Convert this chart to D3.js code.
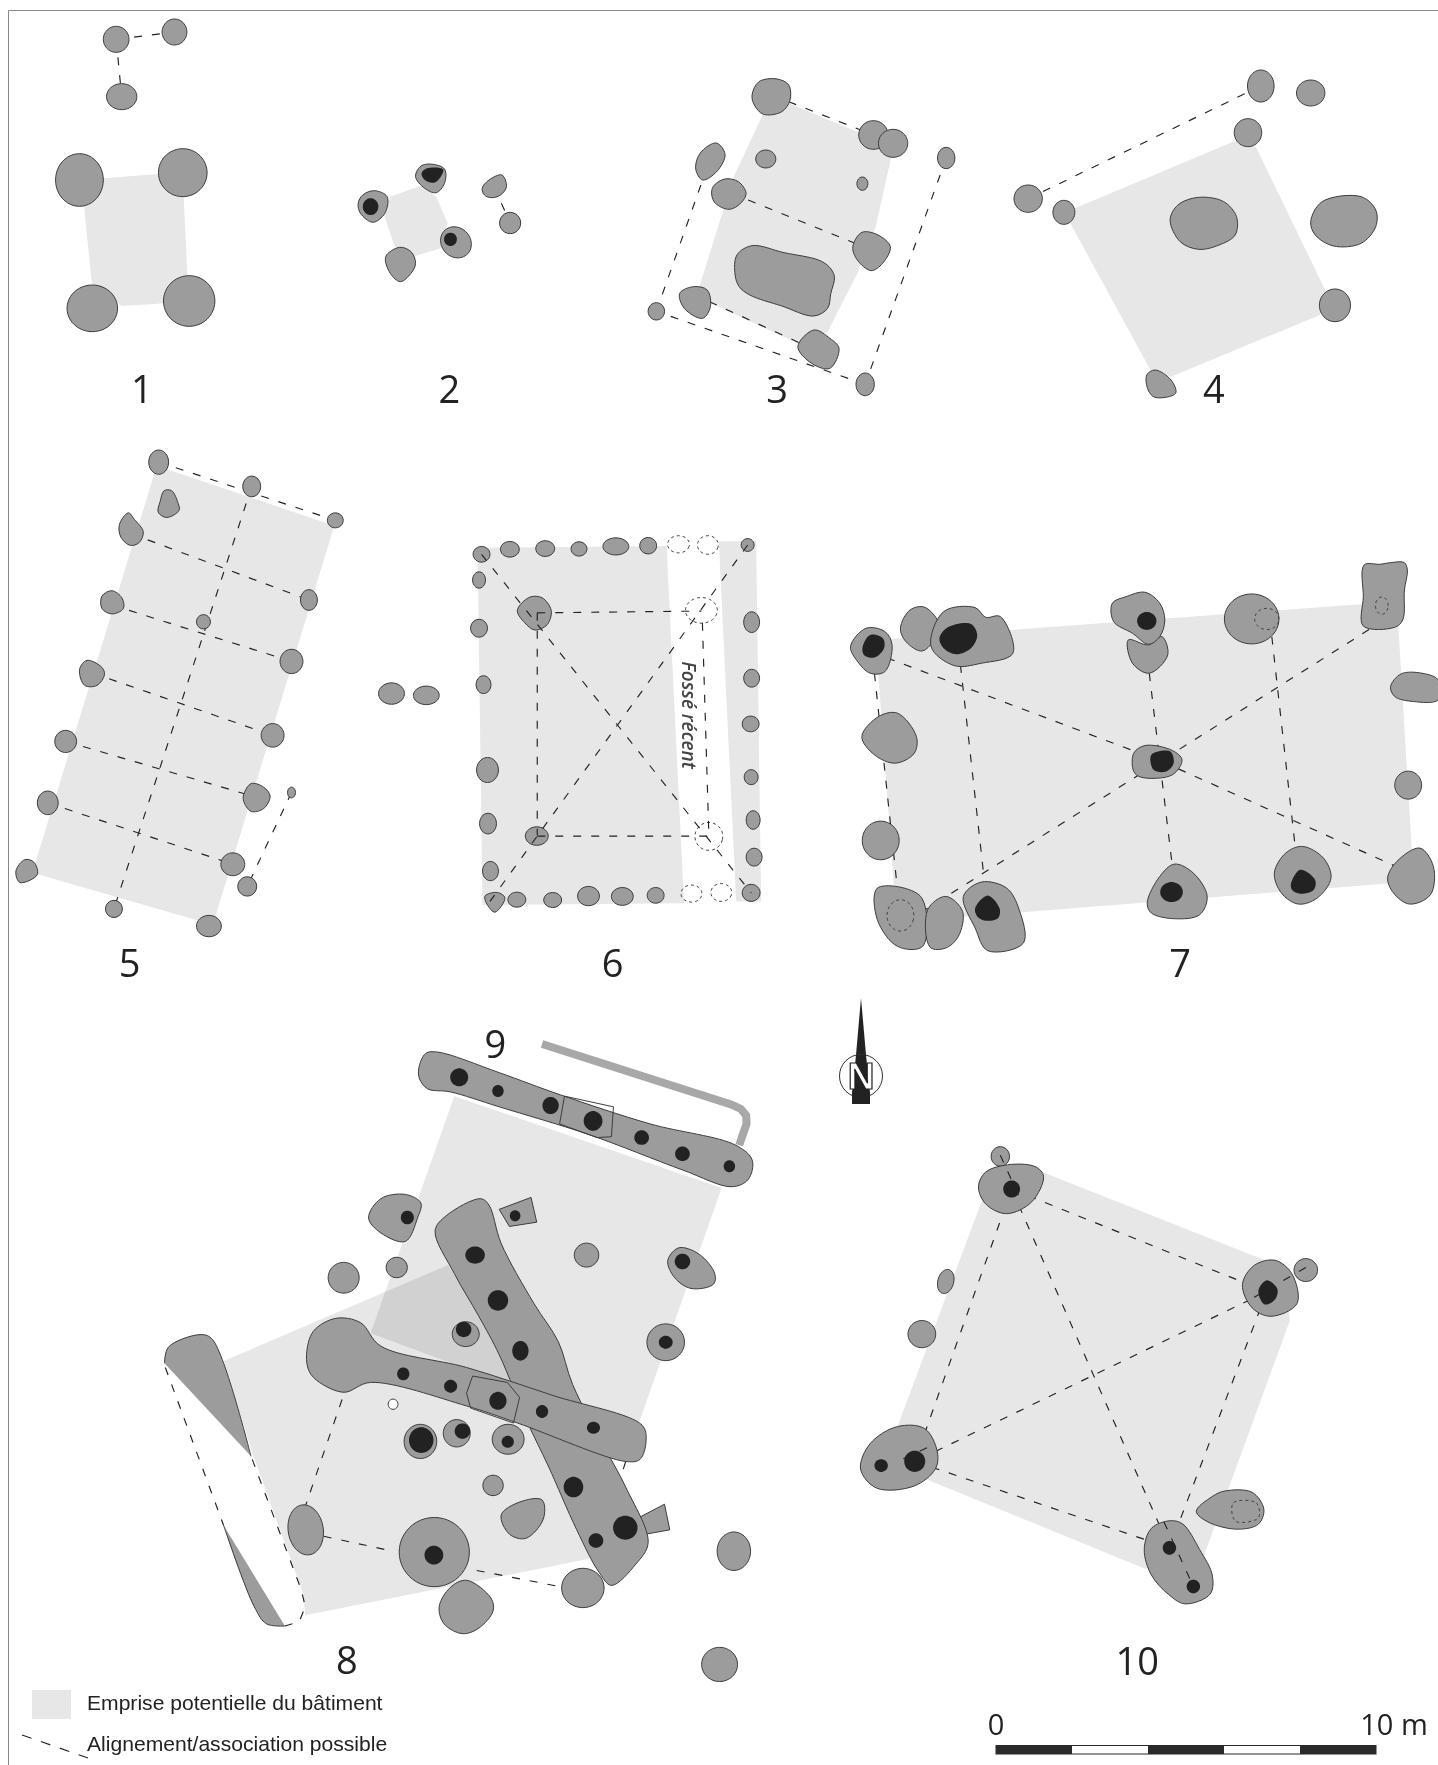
<!DOCTYPE html>
<html>
<head>
<meta charset="utf-8">
<title>Plans de bâtiments</title>
<script src="https://cdnjs.cloudflare.com/ajax/libs/d3/7.8.5/d3.min.js"></script>
<style>
    body { margin: 0; background: #fff; }
    svg { display: block; }
    .emprise { fill: #e7e7e7; mix-blend-mode: multiply; }
    .fosse { fill: #9c9c9c; stroke: #3d3d3d; stroke-width: 1; }
    .noyau { fill: #222; stroke: none; }
    .vide { fill: none; stroke: #444; stroke-width: 1; stroke-dasharray: 3 3; }
    .lien { fill: none; stroke: #222; stroke-width: 1.15; stroke-dasharray: 8 10; }
    .numero { font-family: "Open Sans", sans-serif; font-size: 38px; fill: #222; text-anchor: middle; dominant-baseline: central; }
    .legende { font-family: "Liberation Sans", Arial, sans-serif; font-size: 21.1px; fill: #222; }
</style>
</head>
<body>
<div id="plan"></div>
<script>
// each array is in the coordinates of the panel it is drawn in
// a shape is either [cx, cy, rx, ry, rot] or a list of contour points

// building 1
var emprise1 = [[225,535],[345,522],[400,590],[408,825],[360,910],[265,918],[200,850],[183,620]];
var fosses1 = [[173,540,52,79],[398,518,53,72],[201,925,55,70],[412,903,56,76],[253,118,28,39],[380,96,27,39],[265,290,33,39]];
var liens1 = [[[253,118],[380,96]],[[253,118],[265,290]]];

// building 2
var emprise2 = [[920,555],[950,590],[975,670],[960,745],[900,770],[860,740],[835,640],[850,590]];
var fosses2 = [
    [[815,572],[843,590],[838,640],[812,667],[785,640],[780,610],[790,585]],
    [[905,530],[915,500],[935,492],[968,507],[968,550],[950,578],[925,565]],
    [993,727,33,47,-10],
    [[840,770],[870,742],[895,755],[905,790],[895,820],[872,845],[850,820]],
    [[1050,565],[1065,540],[1093,525],[1103,560],[1090,585],[1070,593],[1055,585]],
    [1111,669,23,32]
];
var noyaux2 = [
    [807,620,17,25],
    [[918,520],[930,505],[965,508],[960,530],[945,548],[925,540]],
    [981,718,14,20]
];
var liens2 = [[[1076,560],[1111,669]]];

// building 3
var emprise3 = [[95,340],[150,310],[300,395],[375,465],[340,680],[300,820],[235,995],[170,1030],[-50,890],[-45,860],[30,530]];
var fosses3 = [
    [[70,285],[85,245],[125,237],[150,255],[153,300],[135,335],[95,343],[75,315]],
    [335,405,32,43],[378,430,32,42],[100,477,22,27],[311,551,12,20],[494,474,19,32],
    [[290,740],[310,697],[345,705],[372,740],[355,790],[330,812],[300,780]],
    [[70,737],[140,758],[215,780],[238,800],[250,830],[242,880],[235,925],[205,948],[135,918],[65,885],[42,860],[33,825],[37,765]],
    [[170,1040],[205,990],[240,1015],[260,1045],[240,1105],[200,1090]],
    [317,1153,20,34],[-139,934,18,26],
    [[-88,880],[-58,860],[-28,870],[-21,920],[-38,955],[-78,925]],
    [[-8,429],[11,463],[-6,513],[-38,540],[-53,507],[-43,459]],
    [[-15,560],[10,537],[40,545],[57,580],[45,610],[20,628],[-10,610],[-18,585]]
];
var liens3 = [
    [[150,305],[335,405]],[[494,474],[317,1153]],[[317,1153],[-139,934]],[[-139,934],[-38,540]],
    [[25,580],[331,750]],[[-23,905],[200,1045]]
];

// building 4
var emprise4 = [[1130,420],[1170,440],[1325,880],[1310,945],[985,1130],[940,1110],[765,670],[775,625]];
var fosses4 = [
    [1181,258,29,48],[1290,279,31,39],[1153,398,30,42],[673,596,31,41],[751,637,24,36],
    [[983,660],[1000,615],[1045,592],[1100,605],[1128,650],[1125,705],[1090,735],[1045,748],[1005,725]],
    [[1290,665],[1315,605],[1400,590],[1432,630],[1432,680],[1400,730],[1340,738],[1300,705]],
    [1343,916,34,49],
    [[932,1125],[950,1110],[985,1140],[995,1180],[950,1192],[935,1170]]
];
var liens4 = [[[1181,258],[673,596]]];

// building 5
var emprise5 = [[315,100],[672,268],[428,1385],[65,1240]];
var fosses5 = [
    [319,90,20,34],[506,158,18,29],[674,253,16,21],
    [[330,170],[345,170],[358,205],[360,225],[335,245],[318,230],[322,200]],
    [[258,232],[270,250],[288,285],[280,315],[262,323],[243,300],[240,265]],
    [621,476,17,29],
    [[205,465],[225,450],[245,470],[248,500],[225,515],[205,500]],
    [409,537,14,20],[586,648,23,34],
    [[160,670],[175,645],[205,665],[210,685],[195,715],[170,715]],
    [548,855,23,33],[132,872,22,31],
    [[490,1020],[505,990],[530,1000],[543,1025],[530,1060],[505,1068],[490,1040]],
    [586,1015,8,15],[96,1044,21,33],[468,1216,24,32],
    [[32,1235],[50,1203],[68,1210],[75,1245],[40,1267]],
    [497,1278,19,27],[229,1341,17,24],[420,1389,25,30],
    [787,738,26,30],[857,743,26,26]
];
var liens5 = [
    [[319,90],[674,253]],[[506,158],[229,1341]],[[263,290],[621,476]],[[225,490],[586,648]],
    [[185,680],[548,855]],[[132,872],[515,1028]],[[96,1044],[468,1216]],[[586,1015],[497,1278]]
];

// building 6
var emprise6 = [[[960,330],[1340,325],[1375,1325],[970,1330]],[[1445,312],[1520,310],[1530,1320],[1480,1320]]];
var fosses6 = [
    [968,348,17,22],[1025,334,19,22],[1096,332,19,22],[1164,333,16,20],[1238,326,26,24],[1303,324,17,23],[1503,322,13,18],
    [963,420,13,23],[963,555,17,25],[972,713,15,25],[980,952,22,35],[981,1102,17,29],[986,1235,16,27],
    [[975,1305],[1000,1295],[1015,1310],[995,1350],[980,1330]],
    [1039,1315,18,21],[1111,1316,18,21],[1183,1305,22,27],[1251,1306,22,25],[1318,1303,17,22],[1510,1296,18,24],
    [1511,538,16,29],[1511,695,16,25],[1509,823,17,22],[1510,972,14,21],[1514,1092,14,26],[1516,1196,16,25],
    [[1040,505],[1065,468],[1090,470],[1108,505],[1100,545],[1075,560],[1055,540]],
    [1079,1137,23,26]
];
var vides6 = [[1364,320,22,24],[1423,322,21,26],[1390,1298,21,24],[1450,1295,21,25],[1410,505,32,36],[1425,1138,28,39]];
var liens6 = [
    [[1080,512],[1410,507]],[[1080,512],[1080,1135]],[[1412,540],[1425,1135]],[[1080,1137],[1425,1137]],
    [[968,348],[1510,1296]],[[1503,322],[985,1320]]
];

// building 7
var emprise7 = [[228,360],[1470,245],[1510,1085],[278,1207]];
var fosses7 = [
    [[168,380],[205,325],[250,335],[267,375],[250,455],[215,460],[185,425]],
    [[287,325],[310,270],[345,262],[380,320],[340,393],[300,365]],
    [[360,380],[390,275],[465,263],[490,292],[525,290],[555,400],[480,430],[415,437]],
    [[830,360],[878,375],[910,350],[924,405],[880,460],[840,430]],
    [[792,250],[825,230],[870,217],[905,250],[917,300],[905,350],[878,373],[840,340],[795,305]],
    [1124,297,65,75],
    [[1392,135],[1430,133],[1455,128],[1488,128],[1495,150],[1488,210],[1484,300],[1465,322],[1390,318],[1390,230]],
    [[1455,500],[1480,462],[1530,460],[1568,480],[1568,540],[1510,545],[1465,530]],
    [1497,796,32,42],
    [[843,700],[870,677],[935,692],[958,720],[935,765],[860,772],[843,755]],
    [[195,650],[235,590],[280,580],[325,650],[320,700],[275,730],[225,705]],
    [240,962,44,58],
    [[232,1200],[232,1105],[335,1130],[340,1280],[280,1280]],
    [[352,1170],[395,1130],[435,1175],[425,1250],[395,1285],[358,1283]],
    [[437,1130],[480,1087],[540,1105],[570,1170],[580,1270],[495,1293],[465,1225]],
    [[875,1150],[905,1070],[940,1033],[985,1060],[1018,1130],[1000,1185],[940,1197],[885,1180]],
    [[1178,1060],[1205,1000],[1245,980],[1295,1015],[1313,1075],[1280,1135],[1235,1153],[1195,1120]],
    [[1448,1075],[1470,1025],[1525,985],[1557,1040],[1550,1125],[1500,1153],[1462,1120]]
];
var noyaux7 = [
    [[197,380],[215,345],[245,355],[248,385],[225,413],[200,405]],
    [[380,355],[400,322],[455,312],[470,345],[455,385],[420,403],[390,385]],
    [874,303,23,27],
    [[885,705],[930,695],[938,730],[920,755],[890,750]],
    [[465,1165],[495,1127],[523,1165],[520,1195],[490,1203],[470,1190]],
    [933,1117,27,30],
    [[1218,1090],[1240,1050],[1275,1080],[1272,1110],[1240,1122],[1220,1110]]
];
var vides7 = [[1160,297,29,32],[1434,257,15,26],[287,1187,32,47]];
var liens7 = [
    [[215,395],[910,725]],[[1440,300],[340,1175]],[[910,725],[1503,1060]],
    [[225,460],[280,1110]],[[430,435],[485,1060]],[[880,460],[935,1040]],[[1172,350],[1228,985]]
];

// buildings 8 and 9
var emprise9 = [[770,225],[1425,440],[1215,1010],[565,780]];
var emprise8 = [[205,845],[755,620],[1000,1000],[1140,1300],[405,1440],[400,1390],[275,1060]];
var muret9 = [[985,103],[1450,245],[1472,255],[1485,270],[1486,290],[1468,340]];
var fossesIsolees8 = [
    [[560,510],[590,465],[650,455],[688,475],[680,510],[650,565],[590,545]],
    [1094,597,30,28],
    [[1293,610],[1320,580],[1370,595],[1408,640],[1405,665],[1350,675],[1310,650]],
    [629,626,26,24],[499,650,38,36],[798,782,33,29],[1288,801,46,43],
    [687,1033,40,40],[776,1014,33,32],[902,1028,39,35],[865,1136,25,24],
    [[885,1205],[930,1175],[985,1170],[988,1215],[945,1260],[905,1250]],
    [406,1240,43,59,-10],[721,1292,86,81],
    [[733,1420],[760,1375],[800,1358],[860,1400],[865,1430],[830,1470],[790,1483],[745,1460]],
    [1085,1376,52,46],[1455,1290,41,45],[1420,1555,44,40]
];
var fossesAnguleuses8 = [
    [[880,490],[958,462],[972,520],[905,530]],
    [[1225,1210],[1285,1180],[1298,1240],[1240,1250]]
];
var tranchee9 = [[683,160],[700,125],[730,122],[880,170],[1030,222],[1250,290],[1460,340],[1500,375],[1490,420],[1450,437],[1330,398],[1100,315],[880,250],[760,215],[705,208],[685,185]];
var reprise9 = [[1040,225],[1160,250],[1155,320],[1120,322],[1028,290]];
var tranchee8a = [[723,540],[750,505],[835,465],[855,480],[885,570],[965,710],[1025,800],[1060,900],[1140,1050],[1190,1140],[1245,1270],[1215,1320],[1155,1370],[1125,1340],[1070,1240],[1000,1090],[950,990],[880,830],[830,740],[770,640]];
var tranchee8b = [[408,830],[425,775],[480,745],[540,755],[590,810],[800,860],[1010,925],[1230,995],[1240,1030],[1225,1075],[1190,1080],[925,990],[800,950],[565,895],[500,918],[440,895],[415,870]];
var reprise8 = [[815,880],[900,895],[930,930],[915,990],[810,955],[800,920]];
var noyaux8 = [
    [655,509,16,16],[919,505,13,13],[1329,612,19,18],[793,771,19,18],[1288,801,17,15],
    [689,1030,30,30],[790,1009,19,18],[901,1034,15,14],[720,1299,23,22]
];
var noyauxTranchees = [
    [782,181,22,21],[877,213,14,14],[1006,247,20,20],[1110,283,23,23],[1229,322,18,17],[1329,360,18,17],[1444,389,14,14],
    [821,597,24,20],[877,703,25,24],[932,821,20,23],[1062,1140,24,24],[1189,1235,30,28],[1117,1265,18,17],
    [645,875,15,15],[761,904,16,15],[877,938,21,21],[985,963,15,15],[1111,1001,16,14]
];
var tronconHaut8 = [[60,850],[70,812],[150,783],[178,795],[272,1068]];
var tronconBas8 = [[205,1230],[280,1420],[310,1460],[355,1465]];
var liens8 = [
    [[495,935],[405,1185]],[[450,1255],[620,1290]],[[825,1335],[1040,1375]],[[1190,1080],[1110,1320]],
    [[62,860],[205,1230]],[[275,1075],[395,1380],[405,1420],[390,1455],[355,1465]]
];

// building 10
var emprise10 = [[625,170],[1200,395],[1215,520],[1010,1075],[870,1105],[350,895],[280,770],[480,240]];
var fosses10 = [
    [525,133,22,23],
    [[473,205],[490,170],[550,152],[610,158],[628,180],[600,240],[540,268],[490,245]],
    [1253,401,28,27],
    [[1102,435],[1130,390],[1180,378],[1220,410],[1232,480],[1170,510],[1125,490]],
    [395,428,19,29,15],[338,552,33,32],
    [[192,870],[215,810],[280,770],[345,775],[375,830],[370,870],[320,910],[230,915]],
    [[992,970],[1030,935],[1060,922],[1125,925],[1153,965],[1140,1000],[1090,1012],[1020,995]],
    [[868,1060],[885,1010],[930,992],[960,1000],[1000,1060],[1030,1120],[1025,1165],[965,1188],[925,1165],[885,1120]]
];
var noyaux10 = [
    [552,210,20,20],
    [[1140,450],[1160,425],[1185,445],[1180,470],[1155,482]],
    [321,852,25,25],[241,862,16,15],[928,1056,16,16],[985,1147,16,16]
];
var vides10 = [[[1080,950],[1135,950],[1140,985],[1085,993]]];
var liens10 = [
    [[552,210],[1160,452]],[[552,210],[321,852]],[[552,210],[928,1056]],[[1160,452],[321,852]],
    [[321,852],[928,1056]],[[1160,452],[928,1056]]
];
var liensDessus10 = [[[525,130],[575,240]],[[1253,395],[1130,465]],[[350,820],[285,850]],[[915,995],[985,1147]]];

// numbers on the plate, in page coordinates of the printed figure
var numeros = ["1", "2", "3", "4", "5", "6", "7", "8", "9", "10"];
var numerosX = [126, 399, 690, 1078, 115, 544, 1048, 308, 440, 1010];
var numerosY = [345, 345, 345, 345, 855, 855, 855, 1474, 927, 1475];

var graduations = [0, 2, 4, 6, 8, 10];
var legendes = ["Emprise potentielle du bâtiment", "Alignement/association possible"];

var width = 1438;
var height = 1765;

var svg = d3.select("#plan").append("svg")
    .attr("width", width)
    .attr("height", height);

svg.append("path")
    .attr("d", "M1438,10.5H8.5V1765")
    .attr("fill", "none")
    .attr("stroke", "#888");

function panneau(x0, x1, y0, y1, hauteur) {
    return {
        x: d3.scaleLinear().domain([0, 1568]).range([x0, x1]),
        y: d3.scaleLinear().domain([0, hauteur]).range([y0, y1])
    };
}

var panneauA = panneau(0, 720, 0, 440, 1320);
var panneauB = panneau(720, 1438, 0, 440, 1320);
var panneauC = panneau(0, 780, 430, 990, 1568);
var panneauD = panneau(780, 1438, 520, 990, 1411);
var panneauE = panneau(140, 780, 1000, 1670, 1568);
var panneauF = panneau(780, 1438, 1100, 1765, 1568);

function contour(forme) {
    if (Array.isArray(forme[0])) return forme;
    var rot = (forme[4] || 0) * Math.PI / 180;
    return d3.range(0, 2 * Math.PI, Math.PI / 12).map(function (a) {
        var dx = forme[2] * Math.cos(a);
        var dy = forme[3] * Math.sin(a);
        return [forme[0] + dx * Math.cos(rot) - dy * Math.sin(rot),
                forme[1] + dx * Math.sin(rot) + dy * Math.cos(rot)];
    });
}

function formes(p, liste, classe, courbe) {
    var ligne = d3.line()
        .x(function (d) { return p.x(d[0]); })
        .y(function (d) { return p.y(d[1]); })
        .curve(courbe);
    return svg.append("g").selectAll("path")
        .data(liste)
        .enter().append("path")
        .attr("class", classe)
        .attr("d", function (d) { return ligne(contour(d)); });
}

function ronds(p, liste, classe) {
    return formes(p, liste, classe, d3.curveCatmullRomClosed.alpha(0.5));
}

function polygones(p, liste, classe) {
    return formes(p, liste, classe, d3.curveLinearClosed);
}

function liens(p, liste) {
    return formes(p, liste, "lien", d3.curveLinear);
}

function batiment(p, emprises, liste, fosses, noyaux, vides) {
    polygones(p, emprises, "emprise");
    liens(p, liste);
    ronds(p, fosses, "fosse");
    ronds(p, noyaux || [], "noyau");
    ronds(p, vides || [], "vide");
}

batiment(panneauA, [emprise1], liens1, fosses1);
batiment(panneauA, [emprise2], liens2, fosses2, noyaux2);
batiment(panneauB, [emprise3], liens3, fosses3);
batiment(panneauB, [emprise4], liens4, fosses4);
batiment(panneauC, [emprise5], liens5, fosses5);

// building 6: the recent ditch cuts through, links stay on top
batiment(panneauC, emprise6, [], fosses6, [], vides6);
liens(panneauC, liens6);
svg.append("text")
    .attr("transform", "translate(" + panneauC.x(1385) + "," + panneauC.y(798) + ") rotate(90)")
    .attr("text-anchor", "middle")
    .attr("dominant-baseline", "central")
    .attr("font-family", "'Open Sans', sans-serif")
    .attr("font-size", 19)
    .attr("font-style", "italic")
    .attr("font-weight", 600)
    .attr("fill", "#444")
    .text("Fossé récent");

batiment(panneauD, [emprise7], liens7, fosses7, noyaux7, vides7);

// buildings 8 and 9 overlap
polygones(panneauE, [emprise9, emprise8], "emprise");
formes(panneauE, [muret9], "muret", d3.curveLinear)
    .attr("fill", "none")
    .attr("stroke", "#a8a8a8")
    .attr("stroke-width", 8);
liens(panneauE, liens8);
ronds(panneauE, fossesIsolees8, "fosse");
polygones(panneauE, fossesAnguleuses8, "fosse");
ronds(panneauE, noyaux8, "noyau");
ronds(panneauE, [[620,946,12,12]], "fosse").style("fill", "#fff");
ronds(panneauE, [tranchee9, tranchee8a, tranchee8b], "fosse");
polygones(panneauE, [reprise9, reprise8], "fosse").style("fill", "none");
ronds(panneauE, noyauxTranchees, "noyau");

// cut trench on the west side, only its two ends are left
formes(panneauE, [tronconHaut8, tronconBas8], "bord", d3.curveCatmullRom.alpha(0.5))
    .attr("fill", "#9c9c9c")
    .attr("stroke", "none");
formes(panneauE, [tronconHaut8, tronconBas8], "bord", d3.curveCatmullRom.alpha(0.5))
    .attr("fill", "none")
    .attr("stroke", "#3d3d3d");

batiment(panneauF, [emprise10], liens10, fosses10, noyaux10, vides10);
liens(panneauF, liensDessus10);

// north arrow
var nord = svg.append("g").attr("transform", "translate(861,1076)");
nord.append("path")
    .attr("d", "M0,-78L-5,-21H5Z")
    .attr("fill", "#222");
nord.append("circle")
    .attr("r", 21.5)
    .attr("fill", "none")
    .attr("stroke", "#333");
nord.append("path")
    .attr("d", "M-5,-21L5,-21L9,17V28H-9V17Z")
    .attr("fill", "#222");
nord.append("text")
    .attr("text-anchor", "middle")
    .attr("y", 13)
    .attr("font-family", "'Liberation Sans', sans-serif")
    .attr("font-weight", 700)
    .attr("font-size", 37)
    .attr("fill", "#fff")
    .attr("stroke", "#222")
    .attr("stroke-width", 1.2)
    .text("N");

// plate numbers
var numX = d3.scaleLinear().domain([0, 1277]).range([0, width]);
var numY = d3.scaleLinear().domain([0, 1568]).range([0, height]);
svg.append("g").selectAll("text")
    .data(numeros)
    .enter().append("text")
    .attr("class", "numero")
    .attr("x", function (d, i) { return numX(numerosX[i]); })
    .attr("y", function (d, i) { return numY(numerosY[i]); })
    .text(function (d) { return d; });

// scale bar
var metres = d3.scaleLinear().domain([0, 10]).range([996, 1376]);
svg.append("rect")
    .attr("x", metres(0))
    .attr("y", 1745.5)
    .attr("width", metres(10) - metres(0))
    .attr("height", 8.5)
    .attr("fill", "#fff")
    .attr("stroke", "#2a2a2a");
svg.append("g").selectAll("rect")
    .data(d3.pairs(graduations).filter(function (d, i) { return i % 2 === 0; }))
    .enter().append("rect")
    .attr("x", function (d) { return metres(d[0]); })
    .attr("y", 1745.5)
    .attr("width", function (d) { return metres(d[1]) - metres(d[0]); })
    .attr("height", 8.5)
    .attr("fill", "#2a2a2a");
svg.append("text")
    .attr("class", "numero")
    .attr("x", metres(0))
    .attr("y", 1723)
    .style("font-size", "29px")
    .text("0");
svg.append("text")
    .attr("class", "numero")
    .attr("x", metres(10) + 18)
    .attr("y", 1723)
    .style("font-size", "29px")
    .text("10 m");

// legend
svg.append("rect")
    .attr("x", 32)
    .attr("y", 1690)
    .attr("width", 39)
    .attr("height", 29)
    .attr("fill", "#e7e7e7");
svg.append("line")
    .attr("class", "lien")
    .attr("x1", 22)
    .attr("y1", 1735)
    .attr("x2", 88)
    .attr("y2", 1758)
    .style("stroke-dasharray", "10 10");
svg.append("g").selectAll("text")
    .data(legendes)
    .enter().append("text")
    .attr("class", "legende")
    .attr("x", 87)
    .attr("y", function (d, i) { return i === 0 ? 1710 : 1751; })
    .text(function (d) { return d; });
</script>
</body>
</html>
